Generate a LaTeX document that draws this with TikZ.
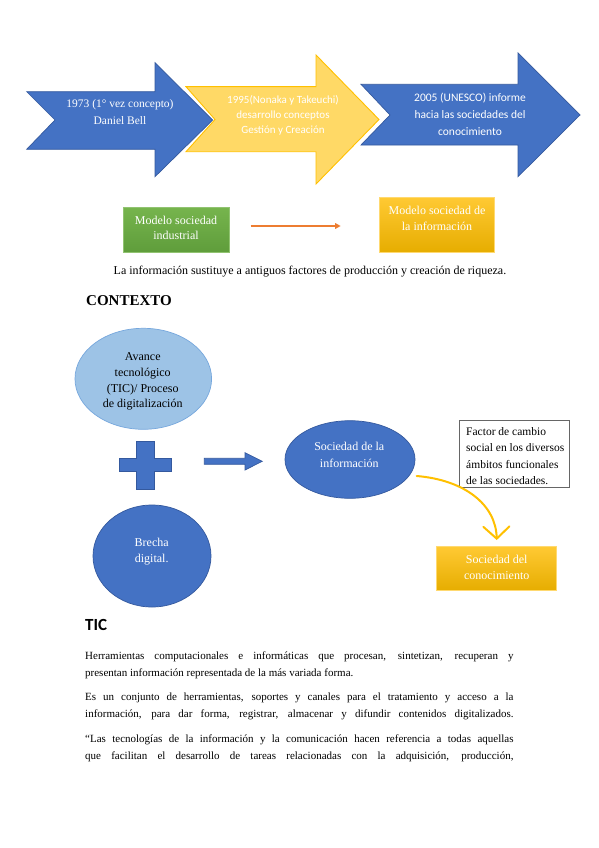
\documentclass[tikz,border=0pt]{standalone}
\usepackage{fontspec}
\setmainfont{Liberation Serif}
\newfontfamily\calfont{Carlito}
\usetikzlibrary{arrows.meta,shapes.geometric}
\definecolor{blueA}{HTML}{4472C4}
\definecolor{blueB}{HTML}{34599E}
\definecolor{goldA}{HTML}{FFD966}
\definecolor{goldB}{HTML}{FFC000}
\definecolor{greenT}{HTML}{76B44D}
\definecolor{greenB}{HTML}{5F9D3B}
\definecolor{yelT}{HTML}{FFC933}
\definecolor{yelB}{HTML}{E6AD00}
\definecolor{lblue}{HTML}{9DC3E6}
\definecolor{lblueB}{HTML}{76A7DD}
\definecolor{orangeA}{HTML}{ED7D31}
\newcommand{\fsz}[2]{\fontsize{#1}{#2}\selectfont}
\tikzset{
  wtext/.style={text=white, align=center, inner sep=0pt},
  btext/.style={text=black, align=center, inner sep=0pt},
  bluearrow/.style={fill=blueA, draw=blueB, line width=0.7pt, line join=miter},
  goldarrow/.style={fill=goldA, draw=goldB, line width=0.9pt},
  greenbox/.style={top color=greenT, bottom color=greenB, draw=greenT!80!white, line width=0.5pt, inner sep=0pt},
  yelbox/.style={top color=yelT, bottom color=yelB, draw=yelT!70!white, line width=0.5pt, inner sep=0pt},
  blueell/.style={ellipse, fill=blueA, draw=blueB, line width=0.7pt, inner sep=0pt},
  lightell/.style={ellipse, fill=lblue, draw=lblueB, line width=0.7pt, inner sep=0pt},
  bodyline/.style={anchor=west, inner sep=0pt, font=\fsz{11}{13}},
}
\begin{document}
\begin{tikzpicture}[x=1pt,y=-1pt]
\useasboundingbox (0,0) rectangle (599,848);
\fill[white] (0,0) rectangle (599,848);

% ---- top timeline arrows ----
\draw[bluearrow] (26.7,91.7) -- (155,91.7) -- (155,62.7) -- (212.7,120) -- (155,176.7) -- (155,149.3) -- (26.7,149.3) -- (55,120) -- cycle;
\node[wtext, font=\fsz{11.5}{16.7}] (a1) at (120,112) {1973 (1° vez concepto)\\Daniel Bell};

\draw[goldarrow] (186,86.7) -- (316,86.7) -- (316,55) -- (379,119.5) -- (316,184) -- (316,151.7) -- (186,151.7) -- (215,119.5) -- cycle;
\node[wtext, font=\calfont\fsz{11}{15}] (a2) at (283,115) {1995(Nonaka y Takeuchi)\\desarrollo conceptos\\Gestión y Creación};

\draw[bluearrow] (361,84.3) -- (518,84.3) -- (518,53) -- (580,115) -- (518,176.7) -- (518,145) -- (361,145) -- (390,115) -- cycle;
\node[wtext, font=\calfont\fsz{11.5}{17}] (a3) at (470,114.5) {2005 (UNESCO) informe\\hacia las sociedades del\\conocimiento};

% ---- models ----
\node[greenbox, minimum width=106pt, minimum height=45.4pt] (gmod) at (176.3,230) {};
\node[wtext, font=\fsz{12}{15}] (gmodt) at (176,228) {Modelo sociedad\\industrial};

\node[yelbox, minimum width=115pt, minimum height=55.4pt] (ymod) at (436.8,225) {};
\node[wtext, font=\fsz{12}{16}] (ymodt) at (437,218.5) {Modelo sociedad de\\la información};

\coordinate (oa1) at (250.7,226);
\coordinate (oa2) at (340.7,226);
\draw[orangeA, line width=1.4pt, -{Triangle[length=5.5pt,width=5.5pt]}] (oa1) -- (oa2);

\node[btext, font=\fsz{12}{14}] (cap) at (310,272) {La información sustituye a antiguos factores de producción y creación de riqueza.};

\node[anchor=west, inner sep=0pt, font=\bfseries\fsz{15}{18}] (ctx) at (86,300.5) {CONTEXTO};

% ---- contexto diagram ----
\node[lightell, minimum width=136.6pt, minimum height=101pt] (ava) at (143.3,378.8) {};
\node[btext, font=\fsz{12}{15.8}] (avat) at (142.7,381.5) {Avance\\tecnológico\\(TIC)/ Proceso\\de digitalización};

\draw[bluearrow] (136,441.7) -- (154.3,441.7) -- (154.3,458.3) -- (171.7,458.3) -- (171.7,471.7) -- (154.3,471.7) -- (154.3,489) -- (136,489) -- (136,471.7) -- (119.3,471.7) -- (119.3,458.3) -- (136,458.3) -- cycle;

\draw[bluearrow] (204.3,458.3) -- (245,458.3) -- (245,452.7) -- (262.3,461.3) -- (245,470) -- (245,464.3) -- (204.3,464.3) -- cycle;

\node[blueell, minimum width=118pt, minimum height=102pt] (bre) at (152,556) {};
\node[wtext, font=\fsz{12}{16.6}] (bret) at (151.7,551.5) {Brecha\\digital.};

\node[blueell, minimum width=130pt, minimum height=77.6pt] (soc) at (350,459.5) {};
\node[wtext, font=\fsz{12}{17}] (soct) at (349.3,454.5) {Sociedad de la\\información};

\node[draw=black!60, line width=0.8pt, fill=white, minimum width=110pt, minimum height=66.7pt, anchor=north west, inner sep=0pt] (fac) at (459.3,420) {};
\node[anchor=west, align=left, inner sep=0pt, font=\fsz{11.5}{16.3}] (fact) at (466,456) {Factor de cambio\\social en los diversos\\ámbitos funcionales\\de las sociedades.};

\node[yelbox, minimum width=120pt, minimum height=44pt] (con) at (496.7,568.7) {};
\node[wtext, font=\fsz{12}{15.7}] (cont) at (496.7,567.5) {Sociedad del\\conocimiento};

\coordinate (ca1) at (416.7,476);
\coordinate (ca2) at (496.7,540);
\draw[goldB, line width=2pt, line cap=round, -{Straight Barb[length=12pt,width=26pt,line cap=round]}] (ca1) .. controls (465,480) and (496,505) .. (ca2);

% ---- TIC ----
\node[anchor=west, inner sep=0pt, font=\calfont\bfseries\fsz{17}{20}] (tic) at (85,625) {TIC};

\node[bodyline] (p1a) at (85,656.7) {\makebox[428.3pt][s]{Herramientas computacionales e informáticas que procesan, sintetizan, recuperan y}};
\node[bodyline] (p1b) at (85,673.3) {presentan información representada de la más variada forma.};
\node[bodyline] (p2a) at (85,698.3) {\makebox[428.3pt][s]{Es un conjunto de herramientas, soportes y canales para el tratamiento y acceso a la}};
\node[bodyline] (p2b) at (85,715) {\makebox[428.3pt][s]{información, para dar forma, registrar, almacenar y difundir contenidos digitalizados.}};
\node[bodyline] (p3a) at (85,740) {\makebox[428.3pt][s]{“Las tecnologías de la información y la comunicación hacen referencia a todas aquellas}};
\node[bodyline] (p3b) at (85,756.7) {\makebox[428.3pt][s]{que facilitan el desarrollo de tareas relacionadas con la adquisición, producción,}};
\end{tikzpicture}
\end{document}
